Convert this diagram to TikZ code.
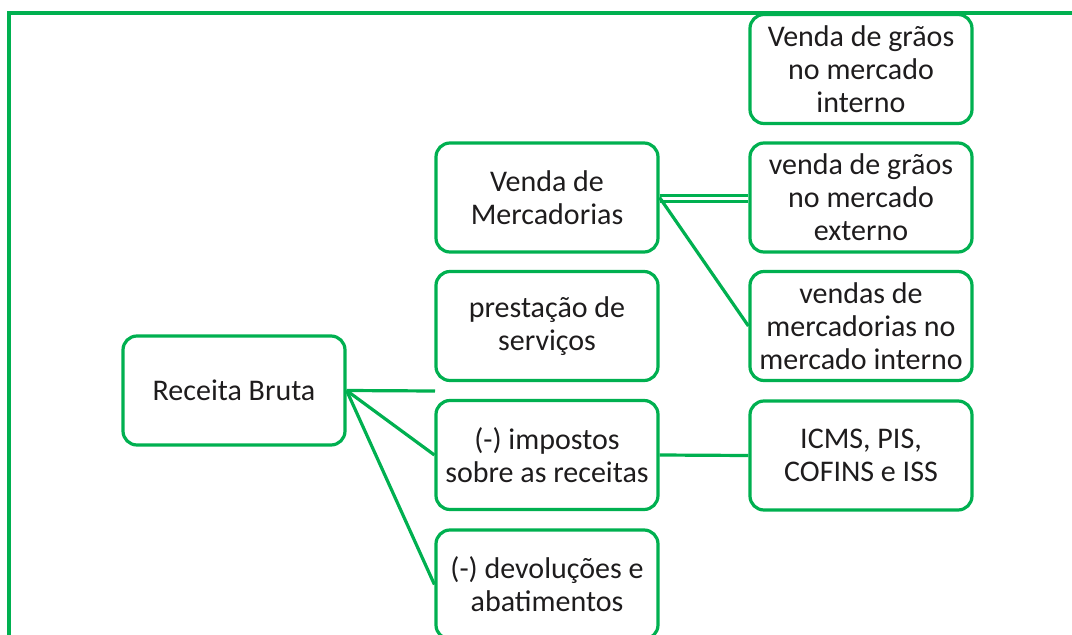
\documentclass[tikz,border=0pt]{standalone}
\usepackage{fontspec}
\setmainfont{Carlito}
\definecolor{og}{RGB}{0,176,80}
\definecolor{tx}{RGB}{30,28,29}
\begin{document}
\begin{tikzpicture}[x=1pt,y=-1pt,
  box/.style={draw=og,line width=3.2pt,rounded corners=14pt,minimum width=222pt,minimum height=109pt,
    align=center,inner sep=0pt,text=tx,font=\fontsize{30}{33}\selectfont},
  conn/.style={draw=og,line width=3.2pt}]
\useasboundingbox (0,0) rectangle (1072,635);
\draw[og,line width=3.2pt] (1072,13) -- (9,13) -- (9,640);
\node[box] (rb) at (234,390.5) {Receita Bruta};
\node[box] (vm) at (547,197.5) {Venda de\\Mercadorias};
\node[box] (ps) at (547,326) {prestação de\\serviços};
\node[box] (imp) at (547,455) {(-) impostos\\sobre as receitas};
\node[box] (dev) at (547,584.5) {(-) devoluções e\\abatimentos};
\node[box] (gi) at (861,69) {Venda de grãos\\no mercado\\interno};
\node[box] (ge) at (861,197.5) {venda de grãos\\no mercado\\externo};
\node[box] (vmi) at (861,326) {vendas de\\mercadorias no\\mercado interno};
\node[box] (icms) at (861,455.5) {ICMS, PIS,\\COFINS e ISS};
\coordinate (psend) at (435,391);
\draw[conn] (rb.east) -- (psend);
\draw[conn] (rb.east) -- (imp.west);
\draw[conn] (rb.east) -- (dev.west);
\draw[conn] ([yshift=-4pt]vm.east) -- ([yshift=-4pt]ge.west);
\draw[conn] ([yshift=2pt]vm.east) -- ([yshift=2pt]ge.west);
\draw[conn] (vm.east) -- (vmi.west);
\draw[conn] (imp.east) -- (icms.west);
\end{tikzpicture}
\end{document}
